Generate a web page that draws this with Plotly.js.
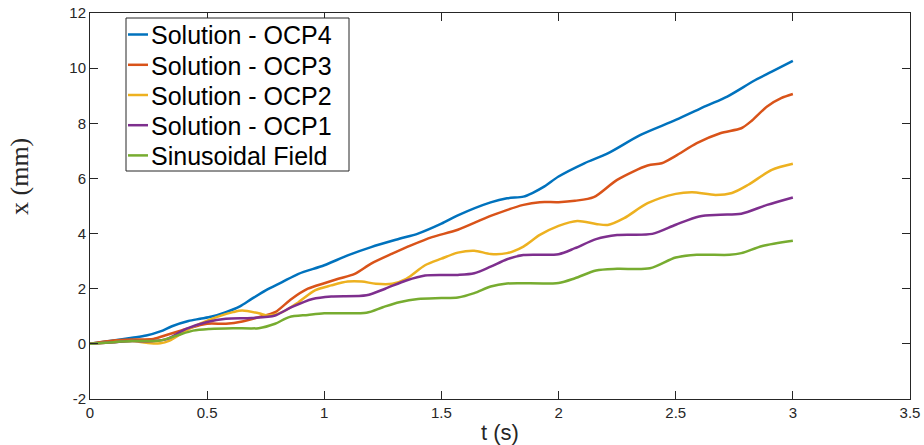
<!DOCTYPE html>
<html>
<head>
<meta charset="utf-8">
<script src="https://cdn.plot.ly/plotly-3.0.1.min.js"></script>
<style>html,body{margin:0;padding:0;background:#fff;}#chart{width:924px;height:445px;}</style>
</head>
<body>
<div id="chart"></div>
<script>
// Series names
const seriesNames = ["Solution - OCP4", "Solution - OCP3", "Solution - OCP2", "Solution - OCP1", "Sinusoidal Field"];

// OCP4
const tOCP4 = [0,0.1,0.18,0.24,0.30,0.35,0.42,0.47,0.52,0.58,0.64,0.69,0.75,0.82,0.89,1.0,1.10,1.20,1.32,1.40,1.5,1.57,1.71,1.78,1.85,1.89,1.94,2.0,2.11,2.21,2.35,2.5,2.63,2.72,2.84,2.91,3.0];
const xOCP4 = [0,0.12,0.22,0.30,0.45,0.64,0.83,0.91,0.99,1.15,1.36,1.63,1.94,2.24,2.54,2.85,3.21,3.51,3.81,4.0,4.36,4.66,5.13,5.28,5.34,5.48,5.71,6.07,6.55,6.91,7.58,8.12,8.63,8.97,9.57,9.87,10.26];

// OCP3
const tOCP3 = [0,0.1,0.18,0.27,0.33,0.41,0.5,0.58,0.65,0.72,0.79,0.86,0.93,1.0,1.06,1.13,1.2,1.29,1.37,1.46,1.57,1.71,1.85,1.92,2.0,2.07,2.15,2.25,2.38,2.44,2.5,2.59,2.69,2.78,2.82,2.89,2.95,3.0];
const xOCP3 = [0,0.12,0.16,0.18,0.33,0.54,0.73,0.73,0.81,0.97,1.15,1.63,2.0,2.2,2.36,2.54,2.91,3.27,3.57,3.87,4.14,4.64,5.04,5.14,5.14,5.19,5.32,5.95,6.47,6.55,6.82,7.28,7.64,7.82,8.06,8.61,8.91,9.06];

// OCP2
const tOCP2 = [0,0.1,0.18,0.24,0.30,0.34,0.41,0.47,0.54,0.61,0.65,0.72,0.76,0.82,0.89,0.96,1.03,1.10,1.16,1.22,1.29,1.35,1.43,1.5,1.57,1.64,1.71,1.78,1.85,1.92,2.0,2.08,2.16,2.21,2.28,2.38,2.5,2.57,2.67,2.74,2.81,2.91,3.0];
const xOCP2 = [0,0.06,0.1,0.04,0.02,0.12,0.48,0.73,0.97,1.15,1.21,1.11,1.03,1.15,1.51,1.94,2.12,2.26,2.26,2.18,2.18,2.36,2.85,3.09,3.31,3.38,3.26,3.29,3.53,3.95,4.28,4.46,4.35,4.31,4.56,5.10,5.44,5.50,5.40,5.47,5.77,6.31,6.53];

// OCP1
const tOCP1 = [0,0.1,0.18,0.27,0.33,0.41,0.5,0.58,0.69,0.79,0.86,0.95,1.03,1.18,1.26,1.35,1.43,1.57,1.64,1.71,1.78,1.85,2.0,2.07,2.16,2.25,2.40,2.5,2.6,2.69,2.78,2.89,3.0];
const xOCP1 = [0,0.06,0.1,0.1,0.18,0.54,0.79,0.91,0.94,1.03,1.33,1.63,1.72,1.76,2.0,2.3,2.48,2.50,2.56,2.80,3.07,3.22,3.25,3.47,3.80,3.95,3.99,4.32,4.62,4.68,4.72,5.04,5.31];

// Sinusoidal field
const tSin = [0,0.1,0.18,0.3,0.37,0.44,0.51,0.61,0.72,0.79,0.85,0.93,1.0,1.18,1.25,1.32,1.40,1.5,1.57,1.64,1.71,1.78,2.0,2.07,2.16,2.25,2.39,2.5,2.59,2.73,2.78,2.87,3.0];
const xSin = [0,0.06,0.1,0.12,0.3,0.48,0.54,0.57,0.57,0.73,0.97,1.05,1.11,1.13,1.33,1.51,1.63,1.66,1.68,1.84,2.08,2.19,2.21,2.38,2.66,2.72,2.74,3.13,3.23,3.23,3.29,3.55,3.74];

const xTicks = [0,0.5,1,1.5,2,2.5,3,3.5];
const xTickText = ["0","0.5","1","1.5","2","2.5","3","3.5"];
const yTicks = [-2,0,2,4,6,8,10,12];
const yTickText = ["-2","0","2","4","6","8","10","12"];

const colors = ["#0072BD","#D95319","#EDB120","#7E2F8E","#77AC30"];
const tArr = [tOCP4,tOCP3,tOCP2,tOCP1,tSin];
const xArr = [xOCP4,xOCP3,xOCP2,xOCP1,xSin];

const W = 924, H = 445;
const M = {l:90, r:14, t:13, b:46};
const PW = W - M.l - M.r, PH = H - M.t - M.b;
const px2x = p => (p - M.l) / PW;       // pixel -> paper x
const py2y = p => (H - M.b - p) / PH;   // pixel -> paper y

const data = seriesNames.map((n,i)=>({
  type:'scatter', mode:'lines', name:n, x:tArr[i], y:xArr[i], showlegend:false,
  line:{color:colors[i], width:2.5, shape:'spline', smoothing:0.8}
}));

// Legend (box, line samples and labels) drawn in paper space
const legBox = {x0:126, x1:349, y0:18, y1:171};
const legRowY = [34.5, 64.8, 95, 125.2, 155.4];
const shapes = [{type:'rect', xref:'paper', yref:'paper', x0:px2x(legBox.x0), x1:px2x(legBox.x1),
  y0:py2y(legBox.y1), y1:py2y(legBox.y0), line:{color:'#262626', width:1}, fillcolor:'#fff', layer:'above'}];
const annotations = [];
seriesNames.forEach((n,i)=>{
  shapes.push({type:'line', xref:'paper', yref:'paper', x0:px2x(128), x1:px2x(148),
    y0:py2y(legRowY[i]), y1:py2y(legRowY[i]), line:{color:colors[i], width:2.5}, layer:'above'});
  annotations.push({text:n, xref:'paper', yref:'paper', x:px2x(149), y:py2y(legRowY[i]+1),
    xanchor:'left', yanchor:'middle', showarrow:false,
    font:{family:'Liberation Sans, Arial, sans-serif', size:25, color:'#000'}});
});
annotations.push({text:'x (mm)', xref:'paper', yref:'paper', x:px2x(20), y:py2y(177), xanchor:'center', yanchor:'middle',
  textangle:-90, showarrow:false, font:{family:'Liberation Serif, DejaVu Serif, serif', size:26, color:'#262626'}});

const axisCommon = {
  showgrid:false, zeroline:false, showline:true, mirror:'allticks',
  linecolor:'#262626', linewidth:1, ticks:'inside', ticklen:8, tickcolor:'#262626',
  tickfont:{family:'Liberation Sans, Arial, sans-serif', size:15, color:'#262626'}
};

const layout = {
  width:W, height:H,
  margin:{l:M.l, r:M.r, t:M.t, b:M.b, pad:0},
  paper_bgcolor:'#fff', plot_bgcolor:'#fff',
  showlegend:false,
  xaxis:Object.assign({}, axisCommon, {range:[0,3.5], tickvals:xTicks, ticktext:xTickText,
     title:{text:'t (s)', font:{family:'Liberation Sans, Arial, sans-serif', size:22, color:'#262626'}, standoff:4}}),
  yaxis:Object.assign({}, axisCommon, {range:[-2,12], tickvals:yTicks, ticktext:yTickText}),
  shapes:shapes,
  annotations:annotations
};

Plotly.newPlot('chart', data, layout, {staticPlot:true, displayModeBar:false});
</script>
</body>
</html>
